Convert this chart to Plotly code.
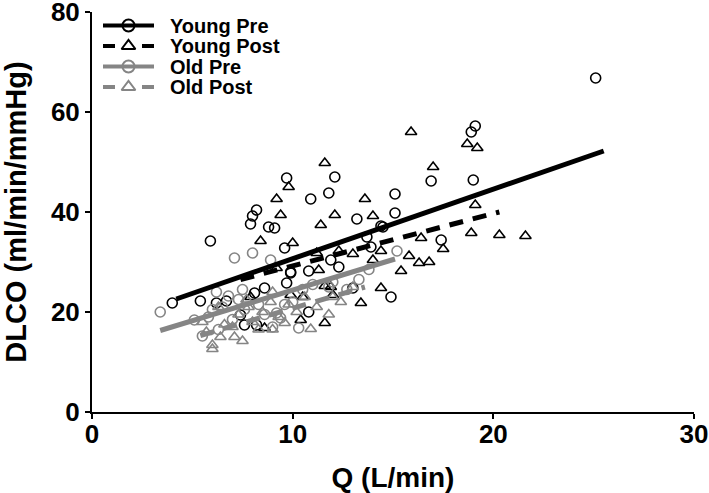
import plotly.graph_objects as go

# ---------------- data ----------------
young_pre_x = [4.0, 5.4, 5.9, 6.2, 6.7, 7.4, 7.6, 7.9, 8.0, 8.2, 8.1, 8.2, 8.6, 8.8, 9.1, 9.6, 9.7, 9.7,
               9.9, 9.9, 10.8, 10.8, 10.9, 11.8, 11.9, 12.1, 12.3, 13.0, 13.2, 13.7, 13.9, 14.4, 14.5,
               14.9, 15.1, 15.1, 16.9, 17.4, 18.9, 19.1, 19.0, 25.1]
young_pre_y = [21.8, 22.2, 34.2, 21.8, 22.2, 19.4, 17.4, 37.6, 39.2, 40.4, 23.8, 17.4, 24.8, 37.0, 36.8,
               32.8, 46.8, 25.8, 28.0, 27.8, 28.2, 20.0, 42.6, 43.8, 30.4, 47.0, 29.0, 24.8, 38.6, 35.0,
               33.0, 37.2, 37.0, 23.0, 43.6, 39.8, 46.2, 34.4, 56.0, 57.2, 46.4, 66.8]

young_post_x = [7.9, 8.4, 8.6, 9.2, 9.2, 9.4, 9.8, 9.9, 10.0, 10.4, 10.5, 11.2, 11.3, 11.4, 11.6, 11.6,
                11.6, 11.9, 12.0, 12.1, 12.3, 13.0, 13.4, 13.6, 14.0, 14.0, 14.4, 14.4, 15.4, 15.8,
                15.9, 16.3, 16.8, 16.4, 17.0, 17.5, 18.7, 19.2, 19.1, 18.9, 20.3, 21.6]
young_post_y = [23.0, 34.2, 16.8, 42.6, 28.8, 39.4, 45.0, 23.4, 33.8, 18.4, 23.0, 31.8, 28.4, 37.4, 49.8,
                25.2, 17.8, 25.0, 23.4, 39.4, 32.2, 31.6, 21.8, 42.6, 39.2, 30.4, 32.2, 24.8, 28.2, 31.2,
                56.0, 29.8, 30.0, 34.8, 49.0, 32.6, 53.6, 52.8, 41.4, 35.8, 35.4, 35.2]

old_pre_x = [3.4, 5.1, 5.5, 5.8, 6.0, 6.5, 6.8, 7.0, 7.1, 7.3, 7.6, 8.0, 8.3, 8.9, 8.6, 9.2, 9.4, 9.6,
             10.0, 10.5, 11.0, 11.8, 12.0, 12.7, 13.3, 13.8, 15.2, 6.3, 9.0, 6.2, 7.5, 10.3]
old_pre_y = [20.0, 18.4, 15.2, 19.0, 20.5, 21.0, 23.2, 18.5, 30.8, 22.5, 20.5, 31.8, 21.5, 30.4, 19.5,
             19.8, 18.8, 21.5, 22.0, 24.5, 25.5, 25.0, 26.0, 24.5, 26.5, 28.5, 32.2, 16.5, 17.0, 24.0,
             24.5, 16.8]

old_post_x = [5.5, 5.7, 6.0, 6.0, 6.4, 6.6, 7.0, 7.1, 7.3, 7.5, 7.8, 8.0, 8.3, 8.5, 8.9, 9.0, 9.3, 9.6,
              9.8, 10.2, 10.6, 10.9, 11.2, 12.0, 12.4, 13.0, 6.3, 7.7, 9.0, 11.8]
old_post_y = [18.0, 16.0, 13.4, 12.6, 15.0, 17.5, 17.0, 15.0, 19.5, 14.2, 21.0, 18.0, 16.5, 20.0, 22.0,
              16.5, 19.0, 17.8, 21.5, 20.0, 23.0, 16.6, 21.0, 23.0, 22.0, 25.0, 21.0, 22.5, 24.0, 19.5]

# regression line end points
fit_young_pre_x, fit_young_pre_y = [4.2, 25.5], [22.6, 52.2]
fit_young_post_x, fit_young_post_y = [7.4, 20.3], [26.5, 40.0]
fit_old_pre_x, fit_old_pre_y = [3.4, 15.1], [16.3, 30.6]
fit_old_post_x, fit_old_post_y = [5.4, 13.6], [15.3, 25.0]

series_names = ["Young Pre", "Young Post", "Old Pre", "Old Post"]
x_ticks = [0, 10, 20, 30]
y_ticks = [0, 20, 40, 60, 80]

BLACK = "#000000"
GRAY = "#858585"
FONT = "Liberation Sans, Arial, sans-serif"

W, H = 709, 493
PW, PH = 602, 400          # plot area size in px
ML, MT = 92, 12            # left / top margins

fig = go.Figure()

groups = [
    (young_pre_x, young_pre_y, fit_young_pre_x, fit_young_pre_y, BLACK, "circle-open", "solid"),
    (young_post_x, young_post_y, fit_young_post_x, fit_young_post_y, BLACK, "triangle-up-open", "dash"),
    (old_pre_x, old_pre_y, fit_old_pre_x, fit_old_pre_y, GRAY, "circle-open", "solid"),
    (old_post_x, old_post_y, fit_old_post_x, fit_old_post_y, GRAY, "triangle-up-open", "dash"),
]

# scatter points
for (xs, ys, fx, fy, col, sym, dash), name in zip(groups, series_names):
    fig.add_trace(go.Scatter(
        x=xs, y=ys, mode="markers", showlegend=False, name=name,
        marker=dict(symbol=sym, size=10, color=col, line=dict(color=col, width=1.6)),
    ))

# regression lines
for (xs, ys, fx, fy, col, sym, dash), name in zip(groups, series_names):
    fig.add_trace(go.Scatter(
        x=fx, y=fy, mode="lines", showlegend=False, name=name,
        line=dict(color=col, width=5, dash="14px,10px" if dash == "dash" else "solid"),
    ))

# hand-made legend on an overlay pixel-like axis (layout only)
leg_y = [13.5, 34.0, 54.5, 75.0]
for i, ((xs, ys, fx, fy, col, sym, dash), name) in enumerate(zip(groups, series_names)):
    fig.add_trace(go.Scatter(
        x=[11, 62], y=[leg_y[i], leg_y[i]], mode="lines", xaxis="x2", yaxis="y2",
        showlegend=False, hoverinfo="skip",
        line=dict(color=col, width=4, dash="12px,27px,12px" if dash == "dash" else "solid"),
    ))
    fig.add_trace(go.Scatter(
        x=[36.5], y=[leg_y[i]], mode="markers", xaxis="x2", yaxis="y2",
        showlegend=False, hoverinfo="skip",
        marker=dict(symbol=sym, size=12, color=col, line=dict(color=col, width=2)),
    ))
    fig.add_annotation(
        x=76, y=leg_y[i], xref="x2", yref="y2", xanchor="left", yanchor="middle",
        text="<b>%s</b>" % name, showarrow=False,
        font=dict(family=FONT, size=20, color=BLACK),
    )

fig.update_layout(
    width=W, height=H,
    margin=dict(l=ML, r=W - ML - PW, t=MT, b=H - MT - PH, pad=0),
    paper_bgcolor="white", plot_bgcolor="white",
    font=dict(family=FONT, color=BLACK),
    showlegend=False,
    xaxis=dict(
        range=[0, 30], tickvals=x_ticks, ticktext=["<b>%d</b>" % v for v in x_ticks],
        automargin=False,
        showgrid=False, zeroline=False, showline=True, linecolor=BLACK, linewidth=2,
        ticks="outside", ticklen=5, tickwidth=2, tickcolor=BLACK,
        tickfont=dict(family=FONT, size=26, color=BLACK),
        ticklabeloverflow="allow", ticklabelstandoff=-7,
        title=dict(text="<b>Q (L/min)</b>", font=dict(family=FONT, size=28, color=BLACK), standoff=22),
    ),
    yaxis=dict(
        range=[0, 80], tickvals=y_ticks, ticktext=["<b>%d</b>" % v for v in y_ticks],
        automargin=False,
        showgrid=False, zeroline=False, showline=True, linecolor=BLACK, linewidth=2,
        ticks="outside", ticklen=5, tickwidth=2, tickcolor=BLACK,
        tickfont=dict(family=FONT, size=26, color=BLACK),
        ticklabeloverflow="allow",
        title=dict(text="<b>DLCO (ml/min/mmHg)</b>", font=dict(family=FONT, size=29, color=BLACK), standoff=17),
    ),
    xaxis2=dict(overlaying="x", anchor="y2", range=[0, PW], visible=False, fixedrange=True, automargin=False),
    yaxis2=dict(overlaying="y", anchor="x2", range=[PH, 0], visible=False, fixedrange=True, automargin=False),
)

# remove the default 8px page margin so the figure fills the 709x493 window exactly
fig.write_html(
    "out.html",
    config={"displayModeBar": False},
    post_script="document.body.style.margin='0';document.body.style.overflow='hidden';",
)
